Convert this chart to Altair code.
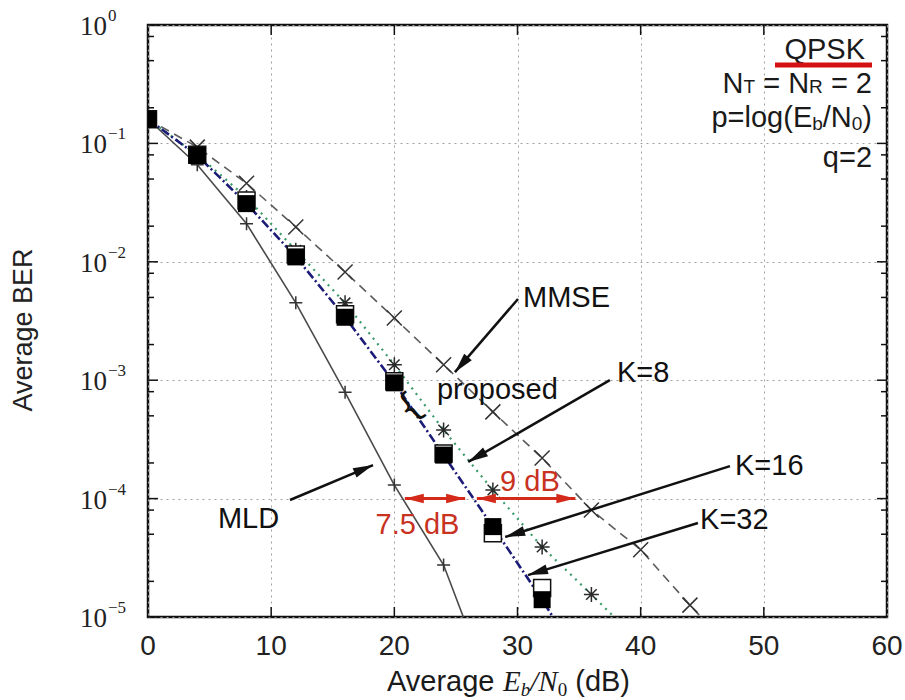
import math
import altair as alt
import pandas as pd

W, H = 739, 592

# ---------------- data ----------------
snr_mld = [0, 4, 8, 12, 16, 20, 24, 28]
ber_mld = [0.16, 0.066, 0.021, 0.0045, 0.00079, 0.00013, 2.75e-5, 2.2e-6]

snr_mmse = [0, 4, 8, 12, 16, 20, 24, 28, 32, 36, 40, 44, 48]
ber_mmse = [0.16, 0.093, 0.046, 0.0197, 0.0082, 0.00335, 0.00135, 0.00054,
            0.00022, 8.0e-5, 3.7e-5, 1.26e-5, 4.5e-6]

snr_k8 = [0, 4, 8, 12, 16, 20, 24, 28, 32, 36, 40]
ber_k8 = [0.16, 0.08, 0.035, 0.0125, 0.0045, 0.00135, 0.00038, 0.000118,
          3.9e-5, 1.55e-5, 6.0e-6]

snr_prop = [0, 4, 8, 12, 16, 20, 24, 28, 32]
ber_k16 = [0.16, 0.08, 0.033, 0.0115, 0.0036, 0.00098, 0.00024, 5.1e-5, 1.76e-5]
ber_k32 = [0.16, 0.079, 0.031, 0.011, 0.0034, 0.00095, 0.000233, 5.8e-5, 1.4e-5]

snr_dashdot = [0, 4, 8, 12, 16, 20, 24, 28, 32, 36]
ber_dashdot = [0.16, 0.079, 0.031, 0.011, 0.0034, 0.00095, 0.000233, 5.8e-5, 1.4e-5, 3.0e-6]

x_tick_values = [0, 10, 20, 30, 40, 50, 60]
x_tick_labels = ["0", "10", "20", "30", "40", "50", "60"]
y_major = [1.0, 1e-1, 1e-2, 1e-3, 1e-4, 1e-5]
y_exp_labels = ["0", "\u22121", "\u22122", "\u22123", "\u22124", "\u22125"]
y_minor = [m * 10.0 ** k for k in range(-5, 0) for m in (2, 5, 8)]

# annotation texts (anchored in data units: dB, BER)
label_text = ["MMSE", "K=8", "K=16", "K=32", "MLD", "proposed"]
label_x = [30.45, 38.08, 47.66, 44.82, 5.68, 23.46]
label_y = [4.99e-3, 1.15e-3, 1.88e-4, 6.59e-5, 6.72e-5, 8.26e-4]

arrow_x0 = [30.04, 37.5, 47.25, 44.65, 11.53]
arrow_y0 = [4.85e-3, 1.0e-3, 1.88e-4, 6.22e-5, 9.73e-5]
arrow_x1 = [24.92, 26.0, 29.0, 30.85, 18.27]
arrow_y1 = [1.17e-3, 2.04e-4, 4.74e-5, 2.26e-5, 1.92e-4]

gap_text = ["7.5 dB", "9 dB"]
gap_text_x = [21.88, 31.01]
gap_text_y = [5.98e-5, 1.38e-4]
gap_x0 = [20.85, 26.7]
gap_x1 = [25.75, 34.7]
gap_y = 1e-4

# ---------------- scales / helpers ----------------
xs = alt.Scale(domain=[0, 60], nice=False, zero=False)
ys = alt.Scale(type="log", domain=[1e-5, 1], nice=False)
x_axis = alt.Axis(values=x_tick_values, grid=True, labels=False, ticks=False,
                  domain=False, title=None, gridDash=[2, 4], gridColor="#a0a0a0",
                  gridWidth=1)
y_axis = alt.Axis(values=y_major, grid=True, labels=False, ticks=False,
                  domain=False, title=None, gridDash=[2, 4], gridColor="#a0a0a0",
                  gridWidth=1)


def X(f="x"):
    return alt.X(f"{f}:Q", scale=xs, axis=x_axis)


def Y(f="y"):
    return alt.Y(f"{f}:Q", scale=ys, axis=y_axis)


def sx(x):
    return x / 60.0 * W


def sy(y):
    return -math.log10(y) / 5.0 * H


def head_angle(x0, y0, x1, y1):
    dx = sx(x1) - sx(x0)
    dy = sy(y1) - sy(y0)
    return math.degrees(math.atan2(dx, -dy)) % 360


PLUS = "M -1 0 L 1 0 M 0 -1 L 0 1"
XMARK = "M -1 -1 L 1 1 M -1 1 L 1 -1"
STAR = "M -1 0 L 1 0 M 0 -1 L 0 1 M -0.7 -0.7 L 0.7 0.7 M -0.7 0.7 L 0.7 -0.7"
HEAD = "M 0 0 L 0.5 2 L -0.5 2 Z"

SANS = {' ': 278, '=': 584, 'N': 722, 'T': 611, 'R': 722, '2': 556, 'p': 556,
        'l': 222, 'o': 556, 'g': 556, '(': 333, ')': 333, 'E': 667, 'b': 556,
        '/': 278, '0': 556, 'q': 556, 'Q': 778, 'P': 667, 'S': 667, 'K': 667,
        'A': 667, 'v': 500, 'e': 556, 'r': 333, 'a': 556, 'd': 556, 'B': 667}
SERIF_I = {'E': 611, 'b': 500, '/': 278, 'N': 667}
SERIF = {'0': 500}

one = pd.DataFrame({"a": [0]})


def text_width(s, size, table):
    return sum(table.get(c, 556) for c in s) * size / 1000.0


def pieces(parts, base_y, x_left=None, x_right=None):
    # parts: (text, size, dy, family, style, table)
    widths = [text_width(p[0], p[1], p[5]) for p in parts]
    if x_left is None:
        x_left = x_right - sum(widths)
    layers = []
    xpos = x_left
    for (t, size, dy, fam, style, table), w in zip(parts, widths):
        lead = len(t) - len(t.lstrip(" "))
        shift = text_width(" " * lead, size, SANS)
        layers.append(
            alt.Chart(one).mark_text(align="left", baseline="alphabetic", font=fam,
                                     fontSize=size, fontStyle=style, color="#1a1a1a")
            .encode(x=alt.value(xpos + shift), y=alt.value(base_y + dy),
                    text=alt.value(t.strip(" ")))
        )
        xpos += w
    return layers


def df(xv, yv):
    return pd.DataFrame({"x": xv, "y": yv})


# ---------------- series ----------------
mld_line = alt.Chart(df(snr_mld, ber_mld)).mark_line(
    color="#4a4a4a", strokeWidth=1.6, clip=True).encode(x=X(), y=Y())
mld_pts = alt.Chart(df(snr_mld, ber_mld)).mark_point(
    shape=PLUS, size=169, filled=False, color="#333", strokeWidth=1.5, opacity=1,
    clip=True).encode(x=X(), y=Y())

mmse_line = alt.Chart(df(snr_mmse, ber_mmse)).mark_line(
    color="#5c5c5c", strokeWidth=1.6, strokeDash=[9, 6], clip=True).encode(x=X(), y=Y())
mmse_pts = alt.Chart(df(snr_mmse, ber_mmse)).mark_point(
    shape=XMARK, size=225, filled=False, color="#333", strokeWidth=1.5, opacity=1,
    clip=True).encode(x=X(), y=Y())

k8_line = alt.Chart(df(snr_k8, ber_k8)).mark_line(
    color="#3a9a6a", strokeWidth=2.2, strokeDash=[2, 5], clip=True).encode(x=X(), y=Y())
k8_pts = alt.Chart(df(snr_k8, ber_k8)).mark_point(
    shape=STAR, size=225, filled=False, color="#2a2a2a", strokeWidth=1.5, opacity=1,
    clip=True).encode(x=X(), y=Y())

dd_line = alt.Chart(df(snr_dashdot, ber_dashdot)).mark_line(
    color="#1c1c78", strokeWidth=2.6, strokeDash=[9, 3, 2, 3], clip=True).encode(x=X(), y=Y())

k16_pts = alt.Chart(df(snr_prop, ber_k16)).mark_point(
    shape="square", size=289, filled=True, fill="white", stroke="#111",
    strokeWidth=1.5, opacity=1, clip=True).encode(x=X(), y=Y())
k32_pts = alt.Chart(df(snr_prop, ber_k32)).mark_point(
    shape="square", size=289, filled=True, color="#000", opacity=1,
    clip=True).encode(x=X(), y=Y())

# ---------------- frame ticks ----------------
ymaj = pd.DataFrame({"y": y_major})
ymin = pd.DataFrame({"y": y_minor})
xtk = pd.DataFrame({"x": x_tick_values[1:-1]})
tick_style = dict(color="#111", strokeWidth=1.5)
ticks = [
    alt.Chart(ymaj).mark_rule(**tick_style).encode(y=Y(), x=alt.value(0), x2=alt.value(10)),
    alt.Chart(ymaj).mark_rule(**tick_style).encode(y=Y(), x=alt.value(W), x2=alt.value(W - 10)),
    alt.Chart(ymin).mark_rule(**tick_style).encode(y=Y(), x=alt.value(0), x2=alt.value(6)),
    alt.Chart(ymin).mark_rule(**tick_style).encode(y=Y(), x=alt.value(W), x2=alt.value(W - 6)),
    alt.Chart(xtk).mark_rule(**tick_style).encode(x=X(), y=alt.value(H), y2=alt.value(H - 10)),
    alt.Chart(xtk).mark_rule(**tick_style).encode(x=X(), y=alt.value(0), y2=alt.value(10)),
]

# tick labels
ylab_df = pd.DataFrame({"y": y_major, "base": ["10"] * len(y_major), "exp": y_exp_labels})
ylab_base = alt.Chart(ylab_df).mark_text(
    align="right", baseline="middle", font="Liberation Serif", fontSize=27,
    color="#222", dy=2).encode(y=Y(), x=alt.value(-41), text="base:N")
ylab_exp = alt.Chart(ylab_df).mark_text(
    align="left", baseline="middle", font="Liberation Serif", fontSize=17,
    color="#222", dy=-9).encode(y=Y(), x=alt.value(-40), text="exp:N")
xlab_df = pd.DataFrame({"x": x_tick_values, "lab": x_tick_labels})
xlab = alt.Chart(xlab_df).mark_text(
    align="center", baseline="middle", font="Liberation Sans", fontSize=28,
    color="#222").encode(x=X(), y=alt.value(622), text="lab:N")

ytitle = alt.Chart(one).mark_text(
    angle=270, align="center", baseline="middle", font="Liberation Sans",
    fontSize=27, color="#222").encode(x=alt.value(-124), y=alt.value(305),
                                     text=alt.value("Average BER"))

xtitle = pieces([
    ("Average ", 29, 0, "Liberation Sans", "normal", SANS),
    ("E", 29, 0, "Liberation Serif", "italic", SERIF_I),
    ("b", 19, 5, "Liberation Serif", "italic", SERIF_I),
    ("/N", 29, 0, "Liberation Serif", "italic", SERIF_I),
    ("0", 19, 5, "Liberation Serif", "normal", SERIF),
    (" (dB)", 29, 0, "Liberation Sans", "normal", SANS),
], base_y=666, x_left=239)

# ---------------- info box ----------------
S = "Liberation Sans"
info = []
info += pieces([("QPSK", 29, 0, S, "normal", SANS)], base_y=34, x_right=717)
info += pieces([("N", 29, 0, S, "normal", SANS), ("T", 19, 0, S, "normal", SANS),
                (" = N", 29, 0, S, "normal", SANS), ("R", 19, 0, S, "normal", SANS),
                (" = 2", 29, 0, S, "normal", SANS)], base_y=68, x_right=724)
info += pieces([("p=log(E", 29, 0, S, "normal", SANS), ("b", 19, 3, S, "normal", SANS),
                ("/N", 29, 0, S, "normal", SANS), ("0", 19, 3, S, "normal", SANS),
                (")", 29, 0, S, "normal", SANS)], base_y=102, x_right=724)
info += pieces([("q=2", 29, 0, S, "normal", SANS)], base_y=142, x_right=724)
underline = alt.Chart(one).mark_rule(color="#d41010", strokeWidth=5).encode(
    x=alt.value(627), x2=alt.value(724), y=alt.value(40))

# ---------------- annotations ----------------
labels = alt.Chart(pd.DataFrame({"x": label_x, "y": label_y, "t": label_text})).mark_text(
    align="left", baseline="middle", font=S, fontSize=29, color="#111").encode(
    x=X(), y=Y(), text="t:N")

arrow_rows = []
head_rows = []
for i in range(len(arrow_x0)):
    arrow_rows.append({"g": i, "o": 0, "x": arrow_x0[i], "y": arrow_y0[i]})
    arrow_rows.append({"g": i, "o": 1, "x": arrow_x1[i], "y": arrow_y1[i]})
    head_rows.append({"x": arrow_x1[i], "y": arrow_y1[i],
                      "a": head_angle(arrow_x0[i], arrow_y0[i], arrow_x1[i], arrow_y1[i])})
arrow_lines = alt.Chart(pd.DataFrame(arrow_rows)).mark_line(
    color="#111", strokeWidth=2.5).encode(x=X(), y=Y(), detail="g:N", order="o:Q")
arrow_heads = alt.Chart(pd.DataFrame(head_rows)).mark_point(
    shape=HEAD, size=400, filled=True, color="#111", opacity=1).encode(
    x=X(), y=Y(), angle=alt.Angle("a:Q", scale=None))

gap_rows = []
gap_heads = []
for i in range(len(gap_x0)):
    gap_rows.append({"g": i, "o": 0, "x": gap_x0[i], "y": gap_y})
    gap_rows.append({"g": i, "o": 1, "x": gap_x1[i], "y": gap_y})
    gap_heads.append({"x": gap_x0[i], "y": gap_y, "a": head_angle(gap_x1[i], gap_y, gap_x0[i], gap_y)})
    gap_heads.append({"x": gap_x1[i], "y": gap_y, "a": head_angle(gap_x0[i], gap_y, gap_x1[i], gap_y)})
gap_lines = alt.Chart(pd.DataFrame(gap_rows)).mark_line(
    color="#d42a1a", strokeWidth=3).encode(x=X(), y=Y(), detail="g:N", order="o:Q")
gap_head_pts = alt.Chart(pd.DataFrame(gap_heads)).mark_point(
    shape=HEAD, size=361, filled=True, color="#d42a1a", opacity=1).encode(
    x=X(), y=Y(), angle=alt.Angle("a:Q", scale=None))
gap_labels = alt.Chart(pd.DataFrame({"x": gap_text_x, "y": gap_text_y, "t": gap_text})).mark_text(
    align="center", baseline="middle", font=S, fontSize=29, color="#c8321f").encode(
    x=X(), y=Y(), text="t:N")

brace = alt.Chart(pd.DataFrame({"x": [21.3], "y": [5.9e-4]})).mark_text(
    text="{", angle=320, font="DejaVu Sans", fontSize=36, color="#111",
    align="center", baseline="middle").encode(x=X(), y=Y())

chart = alt.layer(
    mld_line, mmse_line, k8_line, dd_line,
    mld_pts, mmse_pts, k8_pts, k16_pts, k32_pts,
    *ticks, ylab_base, ylab_exp, xlab, ytitle, *xtitle,
    *info, underline,
    arrow_lines, arrow_heads, gap_lines, gap_head_pts, gap_labels, labels, brace,
).properties(
    width=W, height=H,
    autosize=alt.AutoSizeParams(type="none"),
    padding={"left": 148, "top": 25, "right": 18, "bottom": 83},
    background="white",
).configure_view(stroke="#111", strokeWidth=2.5)

chart.save("out.html", embed_options={"renderer": "svg", "actions": False})
